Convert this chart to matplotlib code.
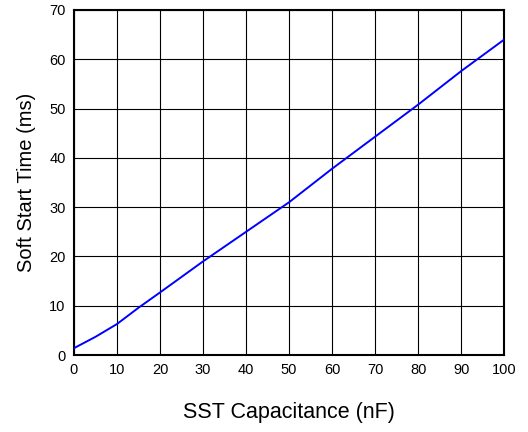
import matplotlib
matplotlib.use('Agg')
import matplotlib.pyplot as plt

# Dados
capacitancia = [0, 5, 10, 15, 20, 30, 40, 50, 60, 70, 80, 90, 100]
tempo_ss = [1.4, 3.7, 6.3, 9.6, 12.7, 19.0, 25.0, 31.0, 37.8, 44.3, 50.8, 57.6, 64.0]
x_ticks = list(range(0, 101, 10))
y_ticks = list(range(0, 71, 10))

plt.rcParams['font.family'] = ['Liberation Sans', 'DejaVu Sans']

fig = plt.figure(figsize=(5.28, 4.32), dpi=100)
ax = fig.add_axes([0.140, 0.178, 0.815, 0.799])

ax.plot(capacitancia, tempo_ss, color='#0000ff', lw=1.4, zorder=3)

ax.set_xlim(0, 100)
ax.set_ylim(0, 70)
ax.set_xticks(x_ticks)
ax.set_yticks(y_ticks)
ax.tick_params(length=0, labelsize=10.5, pad=6)
ax.grid(True, color='black', lw=0.8)

for s in ax.spines.values():
    s.set_linewidth(1.5)
    s.set_color('black')

ax.set_xlabel('SST Capacitance (nF)', fontsize=15.5)
ax.set_ylabel('Soft Start Time (ms)', fontsize=14.5)
ax.xaxis.set_label_coords(0.5, -0.135)
ax.yaxis.set_label_coords(-0.088, 0.5)

fig.savefig('out.png', dpi=100)
